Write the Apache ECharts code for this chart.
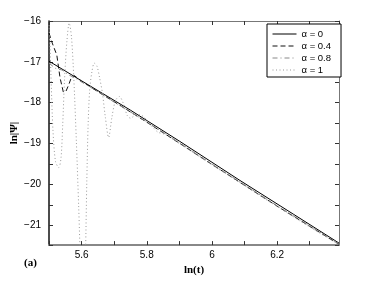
<!DOCTYPE html>
<html><head><meta charset="utf-8">
<script src="https://cdn.jsdelivr.net/npm/echarts@6/dist/echarts.min.js"></script>
<style>html,body{margin:0;padding:0;background:#fff}#c{width:374px;height:281px}</style>
</head><body><div id="c"></div>
<script>
// ---- data ----
const tA0  = [5.5, 5.6, 5.75, 5.9, 6.086, 6.25, 6.39];
const yA0  = [-17.0, -17.49, -18.22, -18.99, -19.97, -20.81, -21.53];

const tA04 = [5.5, 5.51, 5.524, 5.534, 5.544, 5.552, 5.56, 5.568, 5.578, 5.6, 5.65, 5.7, 5.8, 5.9, 6.0, 6.1, 6.2, 6.3, 6.39];
const yA04 = [-16.3, -16.55, -16.85, -17.42, -17.77, -17.75, -17.6, -17.42, -17.36, -17.5, -17.76, -18.01, -18.52, -19.04, -19.57, -20.09, -20.61, -21.11, -21.56];

const tA08 = [5.5, 5.52, 5.54, 5.56, 5.58, 5.6, 5.65, 5.7, 5.8, 5.9, 6.0, 6.1, 6.2, 6.3, 6.39];
const yA08 = [-17.05, -17.18, -17.22, -17.34, -17.42, -17.52, -17.76, -18.02, -18.51, -19.03, -19.56, -20.08, -20.6, -21.1, -21.55];

const tA1 = [5.5, 5.503, 5.507, 5.512, 5.52, 5.53, 5.537, 5.542, 5.548, 5.555, 5.562, 5.569, 5.576, 5.584, 5.591, 5.598, 5.604, 5.608, 5.612, 5.616, 5.62, 5.625, 5.632, 5.639, 5.647, 5.655, 5.664, 5.673, 5.683, 5.693, 5.704, 5.716, 5.728, 5.74, 5.75, 5.762, 5.775, 5.79, 5.805, 5.82, 5.835, 5.855, 5.87, 5.9, 6.0, 6.1, 6.2, 6.3, 6.39];
const yA1 = [-16.1, -16.6, -17.6, -18.7, -19.5, -19.65, -19.4, -18.6, -17.4, -16.5, -16.05, -16.4, -17.4, -19.0, -20.6, -22.3, -23.0, -22.8, -21.8, -20.0, -18.6, -17.7, -17.25, -17.05, -17.12, -17.4, -17.8, -18.4, -18.9, -18.4, -17.98, -17.88, -18.05, -18.35, -18.42, -18.36, -18.33, -18.38, -18.52, -18.66, -18.77, -18.82, -18.89, -19.05, -19.58, -20.1, -20.62, -21.13, -21.57];

const seriesNames = ['\u03b1 = 0', '\u03b1 = 0.4', '\u03b1 = 0.8', '\u03b1 = 1'];
const xMin = 5.5, xMax = 6.39;
const yMin = -21.58, yMax = -16;
const yTickMin = -21.5;

// ---- layout ----
const gLeft = 49, gRight = 35, gTop = 21, gBottom = 32;
const H = 281;
const gHeight = H - gTop - gBottom;
const tickGridHeight = gHeight * (yMax - yTickMin) / (yMax - yMin);

const zip = (a, b) => a.map((v, i) => [v, b[i]]);
const xFmt = v => { const k = Math.round(v * 10); return (Math.abs(v * 10 - k) < 1e-6 && k % 2 === 0) ? String(k / 10) : ''; };
const yFmt = v => (Math.abs(v - Math.round(v)) < 1e-6) ? (v < 0 ? '\u2212' + Math.abs(Math.round(v)) : String(Math.round(v))) : '';

const labFont = {fontFamily: 'Liberation Sans', fontSize: 10, color: '#000'};
const tick = {show: true, inside: true, length: 4, lineStyle: {color: '#333', width: 1}};

const chart = echarts.init(document.getElementById('c'), null, {renderer: 'canvas'});
chart.setOption({
  animation: false,
  backgroundColor: '#fff',
  grid: [
    {left: gLeft, right: gRight, top: gTop, bottom: gBottom},
    {left: gLeft, right: gRight, top: gTop, height: tickGridHeight}
  ],
  xAxis: [
    {gridIndex: 0, type: 'value', position: 'bottom', min: xMin, max: xMax, interval: 0.1,
     axisLine: {show: true, lineStyle: {color: '#888', width: 2}}, axisTick: tick,
     axisLabel: Object.assign({formatter: xFmt, margin: 5, showMinLabel: true, showMaxLabel: false}, labFont),
     splitLine: {show: false},
     name: 'ln(t)', nameLocation: 'middle', nameGap: 15,
     nameTextStyle: {fontFamily: 'Liberation Serif', fontWeight: 'bold', fontSize: 11, color: '#000'}},
    {gridIndex: 0, type: 'value', position: 'top', min: xMin, max: xMax, interval: 0.1,
     axisLine: {show: true, lineStyle: {color: '#777', width: 1}}, axisTick: tick,
     axisLabel: {show: false}, splitLine: {show: false}},
    {gridIndex: 1, type: 'value', min: xMin, max: xMax, show: false}
  ],
  yAxis: [
    {gridIndex: 0, type: 'value', position: 'left', min: yMin, max: yMax,
     axisLine: {show: true, lineStyle: {color: '#111', width: 1.5}}, axisTick: {show: false},
     axisLabel: {show: false}, splitLine: {show: false},
     name: 'ln|\u03a8|', nameLocation: 'middle', nameGap: 29, nameRotate: 90,
     nameTextStyle: {fontFamily: 'Liberation Serif', fontWeight: 'bold', fontSize: 11, color: '#000'}},
    {gridIndex: 0, type: 'value', position: 'right', min: yMin, max: yMax,
     axisLine: {show: true, lineStyle: {color: '#777', width: 1}}, axisTick: {show: false},
     axisLabel: {show: false}, splitLine: {show: false}},
    {gridIndex: 1, type: 'value', position: 'left', min: yTickMin, max: yMax, interval: 0.5,
     axisLine: {show: false}, axisTick: tick,
     axisLabel: Object.assign({formatter: yFmt, margin: 8}, labFont), splitLine: {show: false}},
    {gridIndex: 1, type: 'value', position: 'right', min: yTickMin, max: yMax, interval: 0.5,
     axisLine: {show: false}, axisTick: tick, axisLabel: {show: false}, splitLine: {show: false}}
  ],
  legend: {
    orient: 'vertical', left: 267, top: 24,
    padding: [5, 10, 2, 5], itemGap: 2, itemWidth: 24, itemHeight: 10,
    borderColor: '#000', borderWidth: 1, backgroundColor: '#fff',
    itemStyle: {opacity: 0, borderWidth: 0},
    lineStyle: {width: 1},
    textStyle: {fontFamily: 'Liberation Sans', fontSize: 9.5, color: '#000'},
    data: seriesNames
  },
  graphic: [
    {type: 'text', left: 24, top: 258, style: {text: '(a)', font: 'bold 11px "Liberation Serif"', fill: '#000'}}
  ],
  series: [
    {name: seriesNames[0], type: 'line', xAxisIndex: 0, yAxisIndex: 0, symbol: 'none', clip: true,
     data: zip(tA0, yA0), lineStyle: {color: '#000', width: 1, type: 'solid'}, itemStyle: {color: '#000'}},
    {name: seriesNames[1], type: 'line', xAxisIndex: 0, yAxisIndex: 0, symbol: 'none', clip: true,
     data: zip(tA04, yA04), lineStyle: {color: '#111', width: 1, type: [5, 3]}, itemStyle: {color: '#111'}},
    {name: seriesNames[2], type: 'line', xAxisIndex: 0, yAxisIndex: 0, symbol: 'none', clip: true,
     data: zip(tA08, yA08), lineStyle: {color: '#888', width: 1, type: [5, 3, 1, 3]}, itemStyle: {color: '#888'}},
    {name: seriesNames[3], type: 'line', xAxisIndex: 0, yAxisIndex: 0, symbol: 'none', clip: true, smooth: 0.3,
     data: zip(tA1, yA1), lineStyle: {color: '#999', width: 1, type: [1, 2.5]}, itemStyle: {color: '#999'}}
  ]
});
</script></body></html>
